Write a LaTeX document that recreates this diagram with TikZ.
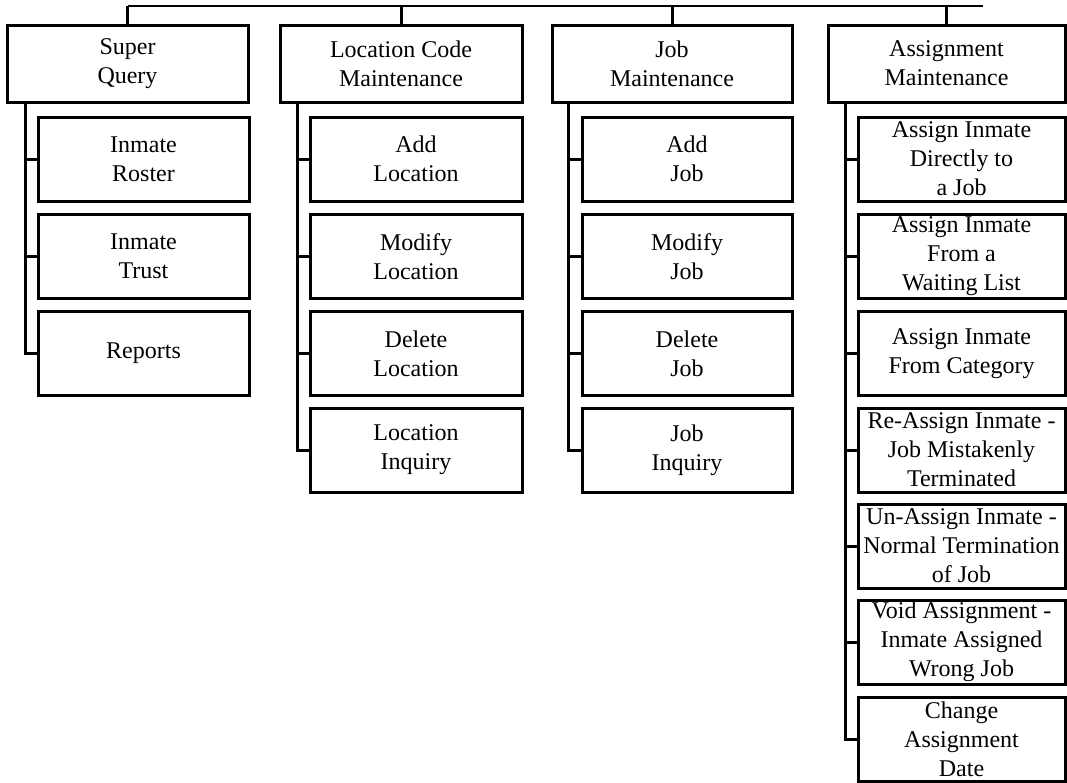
\documentclass[tikz,border=0pt]{standalone}
\usepackage{fontspec}
\setmainfont{Liberation Serif}
\begin{document}
\begin{tikzpicture}[x=1pt,y=-1pt,
  box/.style={draw=black, line width=3pt, inner sep=0pt, align=center,
    font=\fontsize{24}{29}\selectfont, minimum height=84pt},
  headbox/.style={box, minimum height=77pt},
  link/.style={draw=black, line width=3pt},
  topline/.style={draw=black, line width=1.6pt}]
\useasboundingbox (0,0) rectangle (1067,782);
% heads
\node[headbox, minimum width=241pt] (h1) at (127.5,63.5) {Super\\Query};
\node[headbox, minimum width=242pt] (h2) at (401,63.5) {Location Code\\Maintenance};
\node[headbox, minimum width=240pt] (h3) at (672,63.5) {Job\\Maintenance};
\node[headbox, minimum width=237pt] (h4) at (946.5,63.5) {Assignment\\Maintenance};
% column 1
\node[box, minimum width=211pt] (a1) at (143.5,159) {Inmate\\Roster};
\node[box, minimum width=211pt] (a2) at (143.5,256.5) {Inmate\\Trust};
\node[box, minimum width=211pt] (a3) at (143.5,353.5) {Reports};
% column 2
\node[box, minimum width=212pt] (b1) at (416,159) {Add\\Location};
\node[box, minimum width=212pt] (b2) at (416,256.5) {Modify\\Location};
\node[box, minimum width=212pt] (b3) at (416,353.5) {Delete\\Location};
\node[box, minimum width=212pt] (b4) at (416,450) {Location\\Inquiry};
% column 3
\node[box, minimum width=210pt] (c1) at (687,159) {Add\\Job};
\node[box, minimum width=210pt] (c2) at (687,256.5) {Modify\\Job};
\node[box, minimum width=210pt] (c3) at (687,353.5) {Delete\\Job};
\node[box, minimum width=210pt] (c4) at (687,450) {Job\\Inquiry};
% column 4
\node[box, minimum width=207pt] (d1) at (961.5,159) {Assign Inmate\\Directly to\\a Job};
\node[box, minimum width=207pt] (d2) at (961.5,256.5) {Assign Inmate\\From a\\Waiting List};
\node[box, minimum width=207pt] (d3) at (961.5,353.5) {Assign Inmate\\From Category};
\node[box, minimum width=207pt] (d4) at (961.5,450) {Re-Assign Inmate -\\Job Mistakenly\\Terminated};
\node[box, minimum width=207pt] (d5) at (961.5,546) {Un-Assign Inmate -\\Normal Termination\\of Job};
\node[box, minimum width=207pt] (d6) at (961.5,642) {Void Assignment -\\Inmate Assigned\\Wrong Job};
\node[box, minimum width=207pt] (d7) at (961.5,739) {Change\\Assignment\\Date};
% top line
\coordinate (topR) at (983,6);
\draw[topline] (h1.north |- topR) -- (topR);
\foreach \h in {h1,h2,h3,h4} \draw[link] (\h.north) -- (\h.north |- topR);
% connectors
\foreach \c in {a1,a2,a3} \draw[link] ([xshift=20pt]h1.south west) |- (\c.west);
\foreach \c in {b1,b2,b3,b4} \draw[link] ([xshift=19pt]h2.south west) |- (\c.west);
\foreach \c in {c1,c2,c3,c4} \draw[link] ([xshift=18pt]h3.south west) |- (\c.west);
\foreach \c in {d1,d2,d3,d4,d5,d6,d7} \draw[link] ([xshift=19pt]h4.south west) |- (\c.west);
\end{tikzpicture}
\end{document}
